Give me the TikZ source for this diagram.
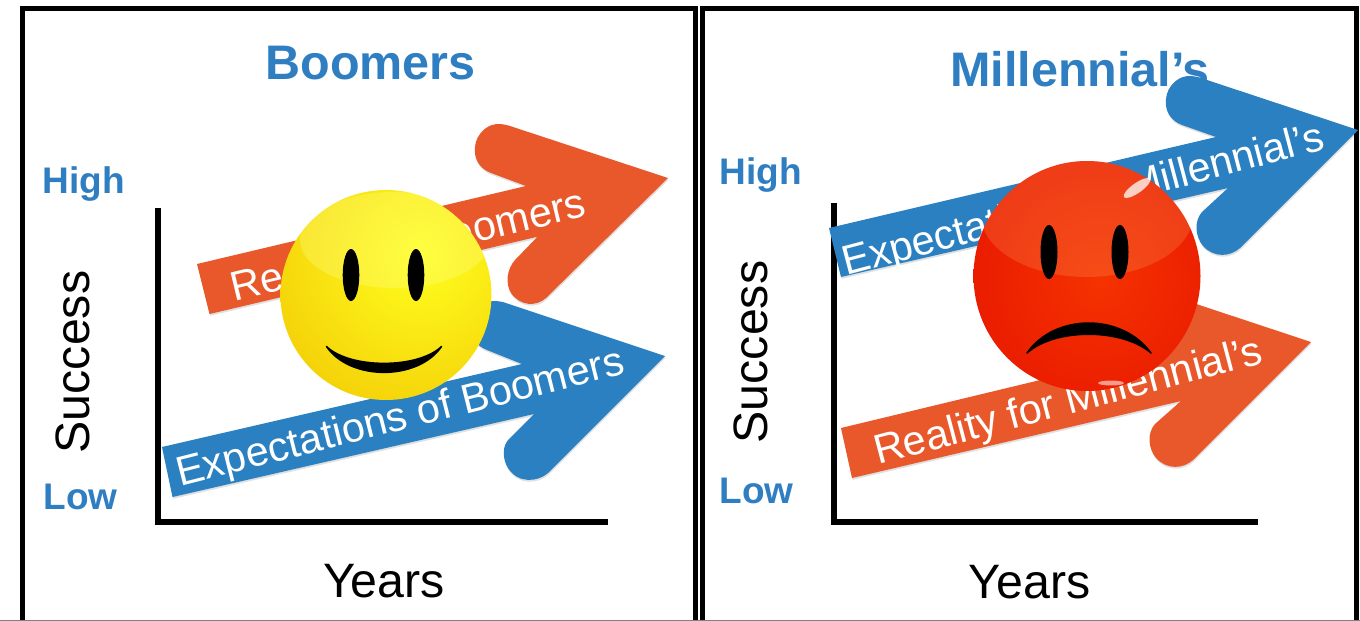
\documentclass[tikz,border=0pt]{standalone}
\usepackage{fontspec}
\setmainfont{Liberation Sans}
\definecolor{arrowblue}{HTML}{2A80C0}
\definecolor{arroworange}{HTML}{E9582A}
\definecolor{titleblue}{HTML}{2F7EC2}
\definecolor{smileycore}{HTML}{FFFF1E}
\definecolor{smileyedge}{HTML}{F0BE00}
\definecolor{smileylight}{HTML}{FFFF90}
\definecolor{sadcore}{HTML}{F53200}
\definecolor{sadedge}{HTML}{E51200}
\newcommand{\fs}[1]{\fontsize{#1}{#1}\selectfont}
\tikzset{
  frameline/.style={line width=5pt,black,line join=miter},
  axisline/.style={line width=5.5pt,black},
  softshadow/.style={preaction={fill=black,fill opacity=.12,transform canvas={xshift=.6pt,yshift=-1.8pt}}},
  bluearrow/.style={fill=arrowblue,softshadow},
  orangearrow/.style={fill=arroworange,softshadow},
  paneltitle/.style={font=\fs{48.5}\bfseries,text=titleblue,inner sep=0pt},
  levellabel/.style={font=\fs{37}\bfseries,text=titleblue,inner sep=0pt},
  axislabel/.style={font=\fs{48.3},text=black,inner sep=0pt},
  arrowlabel/.style={text=white,inner sep=0pt,font=\fs{41.4}},
  eye/.style={fill=black},
  mouth/.style={fill=black,draw=black,line width=1.5pt,line join=round}
}
\begin{document}
\begin{tikzpicture}[x=1pt,y=-1pt]
\useasboundingbox (0,0) rectangle (1360,621);
\fill[white] (0,0) rectangle (1360,621);
% frames
\draw[frameline] (22.5,622) -- (22.5,8.5) -- (695.5,8.5) -- (695.5,622);
\draw[frameline] (702,622) -- (702,8.5) -- (1356,8.5) -- (1356,622);
\draw[gray,line width=1pt] (0,620.5) -- (1360,620.5);
% axes
\draw[axisline] (158,208) -- (158,525);
\draw[axisline] (155.25,522) -- (608,522);
\draw[axisline] (834,203) -- (834,525);
\draw[axisline] (831.25,522) -- (1258,522);
% titles and labels
\node[paneltitle] (t1) at (370.5,63) {Boomers};
\node[paneltitle] (t2) at (1080,69.5) {Millennial’s};
\node[levellabel] (h1) at (83.5,184) {High};
\node[levellabel] (l1) at (80.5,497) {Low};
\node[levellabel] (h2) at (761,175.5) {High};
\node[levellabel] (l2) at (756.5,491) {Low};
\node[axislabel,rotate=90] (s1) at (72.5,362) {Success};
\node[axislabel,rotate=90] (s2) at (751,352) {Success};
\node[axislabel] (y1) at (384,581) {Years};
\node[axislabel] (y2) at (1029.5,582.5) {Years};
% boomers arrows
\path[orangearrow] (197,264) -- (526,186)
  -- (491,173) .. controls (470,165) and (473,142) .. (480,134)
  .. controls (486,126) and (495,121) .. (510,126)
  -- (668,178) -- (546,298)
  .. controls (536,307) and (520,306) .. (511,293)
  .. controls (505,283) and (507,269) .. (515,260)
  -- (537.5,236.7) -- (209.5,314) -- cycle;
\path[bluearrow] (162,447) -- (522,364)
  -- (487,350) .. controls (466,342) and (469,319) .. (476,311)
  .. controls (482,303) and (491,298) .. (506,303)
  -- (665,356) -- (548,473)
  .. controls (538,482) and (518,484) .. (508,468)
  .. controls (502,458) and (502,445) .. (510,438)
  -- (534,414) -- (172.5,497) -- cycle;
\node[arrowlabel,rotate=13.6] (r1) at (409,248) {Reality for Boomers};
\node[arrowlabel,rotate=14.2] (e1) at (400.5,419.5) {Expectations of Boomers};
% millennial arrows
\path[bluearrow] (829,228) -- (1216,137)
  -- (1182,125) .. controls (1161,117) and (1164,94) .. (1171,86)
  .. controls (1177,78) and (1186,73) .. (1201,78)
  -- (1358,130) -- (1240,248)
  .. controls (1230,257) and (1214,258) .. (1203,246)
  .. controls (1195,236) and (1194,221) .. (1202,212)
  -- (1228,188) -- (841,277) -- cycle;
\path[orangearrow] (841,428) -- (1169,349)
  -- (1135,337) .. controls (1114,329) and (1117,306) .. (1124,298)
  .. controls (1130,290) and (1139,285) .. (1154,290)
  -- (1311,342) -- (1193,460)
  .. controls (1183,469) and (1167,470) .. (1156,458)
  .. controls (1148,448) and (1147,433) .. (1155,424)
  -- (1181,401) -- (852,478) -- cycle;
\node[arrowlabel,rotate=14.8] (e2) at (1083.5,202) {Expectations of Millennial’s};
\node[arrowlabel,rotate=14.8] (r2) at (1068.5,403.5) {Reality for Millennial’s};
% happy face
\begin{scope}
  \clip (386,295) ellipse [x radius=105.5,y radius=105];
  \shade[inner color=smileycore,outer color=smileyedge,shading=radial] (420,255) circle [radius=230];
  \fill[smileylight,opacity=.3] (395,240) ellipse [x radius=95,y radius=48];
\end{scope}
\fill[eye] (351,275) ellipse [x radius=8.3,y radius=26];
\fill[eye] (416,275) ellipse [x radius=8.3,y radius=26];
\path[mouth] (326.5,346.5) .. controls (350,381) and (418,381) .. (441.5,346.5)
  .. controls (418,369) and (350,369) .. (326.5,346.5) -- cycle;
% sad face
\begin{scope}
  \clip (1087,276) ellipse [x radius=113.5,y radius=115];
  \shade[inner color=sadcore,outer color=sadedge,shading=radial] (1100,280) circle [radius=190];
  \fill[orange!55!white,opacity=.2] (1087,215) ellipse [x radius=106,y radius=62];
\end{scope}
\fill[white,opacity=.75,rotate around={35:(1137,188)}] (1137,188) ellipse [x radius=16,y radius=5];
\fill[white,opacity=.55] (1111,383) ellipse [x radius=13,y radius=2.5];
\fill[eye] (1049,252) ellipse [x radius=8.5,y radius=27];
\fill[eye] (1120,252) ellipse [x radius=8.5,y radius=27];
\path[mouth] (1027,353) .. controls (1055,313) and (1122,313) .. (1151,353)
  .. controls (1122,328) and (1055,328) .. (1027,353) -- cycle;
\end{tikzpicture}
\end{document}
